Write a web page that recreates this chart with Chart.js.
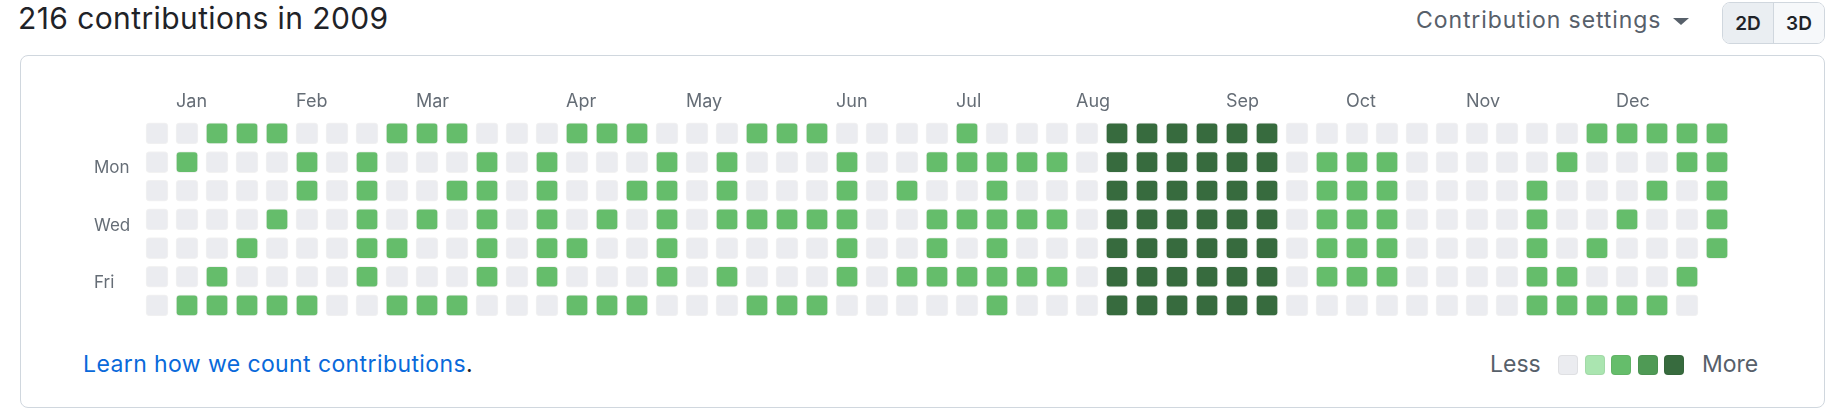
<!DOCTYPE html>
<html>
<head>
<meta charset="utf-8">
<script src="https://cdn.jsdelivr.net/npm/chart.js@4/dist/chart.umd.min.js"></script>
<style>
  html, body { margin: 0; padding: 0; background: #fff; }
  body { width: 1842px; height: 414px; position: relative; overflow: hidden; font-family: Inter, "Noto Sans", sans-serif; color: #1f2328; }
  .abs { position: absolute; line-height: 1; white-space: nowrap; }
  #title { left: 18px; top: 3px; font-size: 30px; letter-spacing: 0.4px; }
  #settings { left: 1416px; top: 9px; font-size: 23px; letter-spacing: 0.9px; color: #57606a; }
  #caret { position: absolute; left: 1673px; top: 18px; width: 0; height: 0; border-left: 8px solid transparent; border-right: 8px solid transparent; border-top: 7px solid #57606a; }
  #toggle { position: absolute; left: 1722px; top: 2px; width: 101px; height: 40px; border: 1px solid #d0d7de; border-radius: 8px; overflow: hidden; display: flex; font-size: 19px; font-weight: 600; }
  #toggle div { display: flex; align-items: center; justify-content: center; }
  #toggle .on { width: 50px; background: #eaeef2; border-right: 1px solid #d0d7de; }
  #toggle .off { flex: 1; background: #f6f8fa; }
  #box { position: absolute; left: 20px; top: 55px; width: 1803px; height: 351px; border: 1px solid #d0d7de; border-radius: 8px; }
  #chart { position: absolute; left: 94px; top: 80px; }
  #learn { left: 83px; top: 353px; font-size: 23px; letter-spacing: 0.4px; color: #0969da; }
  #learn span { color: #1f2328; }
  #less { left: 1490px; top: 353px; font-size: 23px; color: #57606a; }
  #more { left: 1702px; top: 353px; font-size: 23px; color: #57606a; }
  .sw { position: absolute; top: 355px; width: 18px; height: 18px; border-radius: 4px; border: 1px solid rgba(31,35,40,0.06); }
</style>
</head>
<body>
<div id="title" class="abs">216 contributions in 2009</div>
<div id="settings" class="abs">Contribution settings</div>
<div id="caret"></div>
<div id="toggle"><div class="on">2D</div><div class="off">3D</div></div>
<div id="box"></div>
<canvas id="chart" width="1638" height="250"></canvas>
<div id="learn" class="abs">Learn how we count contributions<span>.</span></div>
<div id="less" class="abs">Less</div>
<div id="more" class="abs">More</div>
<script>
const months = ['Jan', 'Feb', 'Mar', 'Apr', 'May', 'Jun', 'Jul', 'Aug', 'Sep', 'Oct', 'Nov', 'Dec'];
const monthWeeks = [1, 5, 9, 14, 18, 23, 27, 31, 36, 40, 44, 49];
const dayLabels = { 1: 'Mon', 3: 'Wed', 5: 'Fri' };
const levelColors = ['#ebecf0', '#aae5b0', '#65bd6b', '#4f9a55', '#376b3e'];

// contribution level per week (53 weeks), one array per weekday
const sun = [0,0,2,2,2,0,0,0,2,2,2,0,0,0,2,2,2,0,0,0,2,2,2,0,0,0,0,2,0,0,0,0,4,4,4,4,4,4,0,0,0,0,0,0,0,0,0,0,2,2,2,2,2];
const mon = [0,2,0,0,0,2,0,2,0,0,0,2,0,2,0,0,0,2,0,2,0,0,0,2,0,0,2,2,2,2,2,0,4,4,4,4,4,4,0,2,2,2,0,0,0,0,0,2,0,0,0,2,2];
const tue = [0,0,0,0,0,2,0,2,0,0,2,2,0,2,0,0,2,2,0,2,0,0,0,2,0,2,0,0,2,0,0,0,4,4,4,4,4,4,0,2,2,2,0,0,0,0,2,0,0,0,2,0,2];
const wed = [0,0,0,0,2,0,0,2,0,2,0,2,0,2,0,2,0,2,0,2,2,2,2,2,0,0,2,2,2,2,2,0,4,4,4,4,4,4,0,2,2,2,0,0,0,0,2,0,0,2,0,0,2];
const thu = [0,0,0,2,0,0,0,2,2,0,0,2,0,2,2,0,0,2,0,0,0,0,0,2,0,0,2,0,2,0,0,0,4,4,4,4,4,4,0,2,2,2,0,0,0,0,2,0,2,0,0,0,2];
const fri = [0,0,2,0,0,0,0,2,0,0,0,2,0,2,0,0,0,2,0,2,0,0,0,2,0,2,2,2,2,2,2,0,4,4,4,4,4,4,0,2,2,2,0,0,0,0,2,2,0,0,0,2,null];
const sat = [0,2,2,2,2,2,0,0,2,2,2,0,0,0,2,2,2,0,0,0,2,2,2,0,0,0,0,0,2,0,0,0,4,4,4,4,4,4,0,0,0,0,0,0,0,0,2,2,2,2,2,0,null];
const weekdays = [sun, mon, tue, wed, thu, fri, sat];

const CELL = 22;
const PITCH = 30;
const HALF = CELL / PITCH / 2;

function rowData(levels, day) {
  return levels
    .map((lvl, week) => lvl === null ? null : { x: week, y: [day - HALF, day + HALF], lvl })
    .filter(Boolean);
}

function buildLegend() {
  levelColors.forEach((c, i) => {
    const d = document.createElement('div');
    d.className = 'sw';
    d.style.left = (1558 + i * 26.5) + 'px';
    d.style.background = c;
    document.body.appendChild(d);
  });
}

window.onload = () => {
  buildLegend();
  const labelFont = { family: 'Inter, "Noto Sans", sans-serif', size: 17 };
  new Chart(document.getElementById('chart').getContext('2d'), {
    type: 'bar',
    data: {
      datasets: weekdays.map((levels, day) => ({
        data: rowData(levels, day),
        backgroundColor: ctx => levelColors[ctx.raw ? ctx.raw.lvl : 0],
        borderColor: 'rgba(31,35,40,0.06)',
        borderWidth: 1,
        borderRadius: 4,
        borderSkipped: false,
        grouped: false,
        barThickness: CELL
      }))
    },
    options: {
      responsive: false,
      animation: false,
      layout: { padding: 0 },
      plugins: { legend: { display: false }, tooltip: { enabled: false } },
      scales: {
        x: {
          type: 'linear',
          position: 'top',
          min: -0.5,
          max: 52.5,
          offset: false,
          grid: { display: false, drawTicks: false },
          border: { display: false },
          afterBuildTicks: s => { s.ticks = monthWeeks.map(v => ({ value: v })); },
          afterFit: s => { s.height = 39; },
          ticks: {
            autoSkip: false,
            maxRotation: 0,
            minRotation: 0,
            align: 'start',
            labelOffset: -11,
            padding: 7,
            color: '#656d76',
            font: { ...labelFont, size: 18 },
            callback: v => months[monthWeeks.indexOf(v)] || ''
          }
        },
        y: {
          type: 'linear',
          reverse: true,
          min: -0.5,
          max: 6.5,
          grid: { display: false, drawTicks: false },
          border: { display: false },
          afterBuildTicks: s => { s.ticks = [1, 3, 5].map(v => ({ value: v })); },
          afterFit: s => { s.width = 48; },
          ticks: {
            crossAlign: 'far',
            labelOffset: 6,
            padding: 0,
            color: '#656d76',
            font: labelFont,
            callback: v => dayLabels[v] || ''
          }
        }
      }
    }
  });
};
</script>
</body>
</html>
